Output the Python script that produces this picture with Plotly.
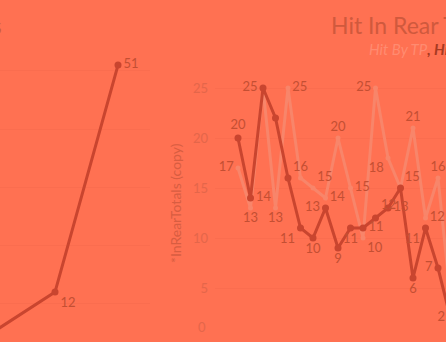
import plotly.graph_objects as go

# ---------------- data ----------------
left_values = [5, 12, 51]
left_labels = ["", "12", "51"]

dark_values = [20, 14, 25, 22, 16, 11, 10, 13, 9, 11, 11, 12, 13, 15, 6, 11, 7, 2]
dark_labels = ["20", "14", "25", "", "", "11", "10", "13", "9", "11", "11", "12", "13", "", "6", "11", "7", "2"]
light_values = [17, 13, 25, 13, 25, 16, 15, 14, 20, 15, 10, 25, 18, 15, 21, 12, 16, 4]
light_labels = ["17", "13", "", "13", "25", "16", "15", "14", "20", "15", "10", "25", "18", "15", "21", "12", "16", ""]
y_ticks = [5, 10, 15, 20, 25]
left_grid = [10, 20, 30, 40, 50]

# ---------------- styles ----------------
W, H = 446, 342
BG = "#FF7152"
DARK = "#C9452F"
LIGHT = "#F8856A"
LABEL = "#C44F33"
TICK = "#E4664A"
GRID = "#FA6D4F"
FONT = "Lato"

dark_pos = ["top center", "middle right", "middle left", "middle right", "middle right",
            "bottom left", "bottom center", "middle left", "bottom center", "bottom center",
            "middle right", "top right", "middle right", "middle right", "bottom center",
            "bottom left", "middle left", "middle left"]
light_pos = ["middle left", "bottom center", "top center", "bottom center", "middle right",
             "top center", "top right", "middle right", "top center", "middle right",
             "bottom right", "middle left", "bottom left", "top right", "top center",
             "middle right", "top center", "top center"]
left_pos = ["bottom right", "bottom right", "middle right"]

def px2x(p):
    return p / W

def py2y(p):
    return 1 - p / H

fig = go.Figure()

# left panel
lx = list(range(len(left_values)))
fig.add_trace(go.Scatter(
    x=lx, y=left_values, mode="lines+markers+text",
    text=left_labels, textposition=left_pos,
    line=dict(color=DARK, width=3), marker=dict(color=DARK, size=7),
    textfont=dict(color=LABEL, size=13, family=FONT),
    xaxis="x", yaxis="y", showlegend=False, cliponaxis=False,
))

# right panel
rx = list(range(len(dark_values)))
fig.add_trace(go.Scatter(
    x=rx, y=light_values, mode="lines+markers+text",
    text=light_labels, textposition=light_pos,
    line=dict(color=LIGHT, width=3), marker=dict(color=LIGHT, size=5),
    textfont=dict(color=LABEL, size=13, family=FONT),
    xaxis="x2", yaxis="y2", showlegend=False, cliponaxis=True,
))
fig.add_trace(go.Scatter(
    x=rx, y=dark_values, mode="lines+markers+text",
    text=dark_labels, textposition=dark_pos,
    line=dict(color=DARK, width=3), marker=dict(color=DARK, size=7),
    textfont=dict(color=LABEL, size=13, family=FONT),
    xaxis="x2", yaxis="y2", showlegend=False, cliponaxis=True,
))

# axis geometry (pixel calibration)
l_x0, l_dx = -8, 63
l_y0, l_dy = 361.9, 5.82
r_x0, r_dx = 238, 12.5
r_y0, r_dy = 338, 10
r_left = 215

fig.update_layout(
    width=W, height=H,
    margin=dict(l=0, r=0, t=0, b=0),
    paper_bgcolor=BG, plot_bgcolor=BG,
    font=dict(family=FONT, color=TICK),
    xaxis=dict(domain=[0, 150 / W], range=[(0 - l_x0) / l_dx, (150 - l_x0) / l_dx],
               visible=False),
    yaxis=dict(domain=[0, 1], range=[(l_y0 - H) / l_dy, l_y0 / l_dy],
               tickvals=left_grid, showticklabels=False, showgrid=True,
               gridcolor=GRID, gridwidth=1, zeroline=False, showline=False),
    xaxis2=dict(domain=[r_left / W, 1], range=[(r_left - r_x0) / r_dx, (W - r_x0) / r_dx],
                visible=False, anchor="y2"),
    yaxis2=dict(domain=[0, 1], range=[(r_y0 - H) / r_dy, r_y0 / r_dy], anchor="x2",
                tickvals=y_ticks, ticktext=[str(v) for v in y_ticks],
                tickfont=dict(size=13, color=TICK, family=FONT),
                showgrid=True, gridcolor=GRID, gridwidth=1,
                zeroline=False, showline=False,
                ticks="", ticklabelstandoff=6),
)

annotations = [
    dict(x=px2x(4), y=py2y(25), text="Hit By TP Totals", xanchor="right", yanchor="middle",
         font=dict(size=23, color="#D0593D", family=FONT)),
    dict(x=px2x(329), y=py2y(25), text="Hit In Rear Totals", xanchor="left", yanchor="middle",
         font=dict(size=23, color="#D0593D", family=FONT)),
    dict(x=px2x(367), y=py2y(49),
         text="<span style='color:#FF8B70'>Hit By TP</span><b style='color:#A83A22'>, Hit In Rear</b>",
         xanchor="left", yanchor="middle",
         font=dict(size=15, family=FONT, style="italic")),
    dict(x=px2x(175), y=py2y(203), text="*InRearTotals (copy)", textangle=-90,
         xanchor="center", yanchor="middle",
         font=dict(size=14, color="#D85D41", family=FONT)),
    dict(x=px2x(208), y=py2y(327), text="0", xanchor="right", yanchor="middle",
         font=dict(size=13, color=TICK, family=FONT)),
]
for a in annotations:
    a.update(xref="paper", yref="paper", showarrow=False)
fig.update_layout(annotations=annotations)

fig.write_html("out.html")
